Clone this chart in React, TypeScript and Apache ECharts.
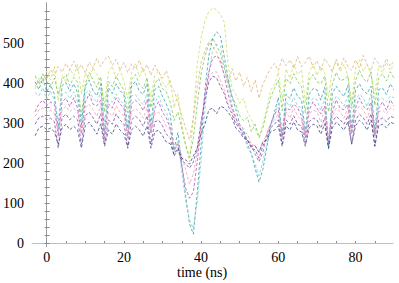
import React, { useEffect, useRef } from "react";
import * as echarts from "echarts";

// time axis: -3 .. 90 ns, one sample per ns
const times: number[] = Array.from({ length: 94 }, (_, i) => i - 3);

const xTickLabels = [0, 20, 40, 60, 80];
const xMinorTicks = [0, 5, 10, 15, 20, 25, 30, 35, 40, 45, 50, 55, 60, 65, 70, 75, 80, 85];
const yTickLabels = [0, 100, 200, 300, 400, 500];
const yMinorTicks = [0, 20, 40, 60, 80, 100, 120, 140, 160, 180, 200, 220, 240, 260, 280, 300, 320, 340, 360, 380, 400, 420, 440, 460, 480, 500, 520, 540, 560, 580];
const xAxisTitle = "time (ns)";

const limeSeries = [
  385, 412, 398, 430, 407, 441, 356, 419, 402, 436,
  418, 447, 372, 425, 409, 438, 421, 396, 351, 428,
  442, 411, 433, 404, 362, 426, 448, 415, 437, 409,
  364, 418, 431, 402, 389, 407, 338, 372, 296, 248,
  203, 318, 448, 512, 556, 579, 588, 583, 571, 552,
  446, 388, 371, 349, 362, 327, 309, 286, 262, 298,
  337, 381, 396, 427, 358, 435, 412, 446, 421, 433,
  352, 427, 448, 419, 441, 426, 365, 432, 455, 428,
  447, 419, 351, 438, 458, 429, 446, 421, 372, 443,
  426, 452, 431, 447,
];
const tanSeries = [
  392, 405, 421, 410, 433, 418, 441, 427, 449, 432,
  455, 431, 446, 424, 452, 437, 462, 441, 458, 467,
  444, 459, 432, 451, 426, 448, 436, 457, 428, 446,
  419, 445, 427, 412, 431, 396, 381, 352, 318, 287,
  258, 311, 389, 452, 481, 503, 492, 477, 448, 424,
  398, 436, 405, 427, 392, 414, 378, 408, 362, 397,
  418, 436, 449, 431, 462, 443, 458, 437, 466, 441,
  452, 467, 438, 456, 431, 461, 447, 428, 459, 436,
  463, 441, 432, 458, 437, 469, 446, 431, 462, 448,
  437, 461, 442, 456,
];
const greenSeries = [
  418, 396, 423, 405, 389, 412, 371, 408, 421, 393,
  414, 402, 318, 397, 426, 408, 389, 416, 327, 404,
  391, 417, 398, 382, 326, 409, 421, 397, 386, 413,
  338, 399, 411, 386, 378, 352, 306, 327, 286, 243,
  214, 262, 347, 423, 468, 497, 512, 493, 474, 437,
  403, 366, 347, 318, 306, 314, 278, 297, 264, 288,
  327, 364, 386, 407, 331, 412, 398, 423, 404, 391,
  326, 408, 421, 403, 398, 417, 328, 396, 427, 406,
  409, 418, 336, 406, 432, 411, 402, 428, 344, 412,
  423, 405, 428, 411,
];
const tealSeries = [
  403, 384, 412, 378, 396, 372, 286, 394, 401, 379,
  398, 376, 296, 392, 407, 381, 368, 397, 276, 388,
  374, 398, 381, 371, 286, 393, 404, 379, 372, 398,
  296, 383, 392, 366, 347, 322, 236, 276, 196, 118,
  48, 22, 126, 246, 384, 468, 512, 528, 517, 466,
  412, 366, 334, 297, 284, 246, 224, 186, 152, 184,
  238, 294, 327, 364, 266, 372, 361, 388, 366, 358,
  276, 372, 386, 383, 357, 389, 236, 374, 392, 378,
  366, 394, 286, 382, 398, 381, 373, 392, 276, 384,
  387, 371, 398, 382,
];
const cyanSeries = [
  376, 368, 388, 359, 379, 356, 306, 372, 377, 361,
  378, 354, 286, 373, 382, 362, 351, 378, 304, 357,
  352, 373, 356, 348, 268, 368, 371, 357, 346, 374,
  284, 351, 368, 341, 328, 296, 228, 254, 176, 106,
  58, 36, 104, 206, 334, 426, 483, 497, 492, 447,
  393, 346, 313, 287, 273, 238, 223, 197, 168, 204,
  246, 293, 318, 348, 268, 354, 341, 364, 342, 338,
  266, 348, 362, 358, 331, 363, 246, 348, 367, 357,
  342, 368, 276, 357, 372, 363, 341, 373, 266, 358,
  362, 353, 367, 363,
];
const magentaSeries = [
  328, 348, 357, 343, 352, 347, 266, 353, 362, 341,
  363, 337, 273, 352, 373, 347, 343, 357, 262, 348,
  337, 363, 347, 338, 262, 348, 357, 348, 331, 358,
  273, 337, 353, 327, 313, 286, 232, 247, 193, 137,
  112, 128, 204, 287, 373, 427, 462, 468, 457, 417,
  373, 337, 313, 287, 278, 257, 243, 222, 203, 227,
  273, 297, 323, 332, 263, 337, 333, 347, 338, 317,
  263, 332, 353, 337, 323, 342, 253, 327, 358, 337,
  333, 347, 273, 337, 363, 342, 333, 352, 268, 337,
  353, 332, 358, 342,
];
const pinkSeries = [
  317, 333, 337, 328, 332, 323, 277, 333, 342, 328,
  337, 328, 272, 338, 347, 333, 317, 343, 277, 328,
  317, 343, 327, 318, 272, 328, 337, 328, 312, 338,
  277, 323, 327, 313, 292, 283, 237, 253, 217, 183,
  147, 173, 227, 303, 367, 413, 427, 428, 407, 383,
  347, 333, 302, 293, 277, 273, 247, 243, 227, 253,
  272, 298, 307, 323, 267, 328, 312, 338, 317, 308,
  267, 323, 332, 328, 302, 333, 262, 318, 337, 328,
  312, 338, 272, 328, 342, 333, 312, 343, 267, 328,
  332, 323, 337, 333,
];
const purpleSeries = [
  297, 313, 317, 308, 312, 303, 237, 313, 322, 308,
  317, 308, 247, 318, 327, 313, 297, 323, 247, 308,
  297, 323, 307, 298, 242, 308, 317, 308, 292, 318,
  247, 303, 307, 293, 272, 263, 217, 233, 207, 198,
  187, 203, 237, 303, 357, 403, 417, 413, 392, 373,
  342, 323, 297, 288, 267, 258, 237, 233, 212, 243,
  262, 288, 297, 308, 247, 308, 297, 318, 297, 293,
  247, 303, 312, 308, 287, 313, 237, 303, 317, 308,
  297, 318, 247, 308, 322, 313, 297, 323, 242, 308,
  312, 303, 317, 313,
];
const navySeries = [
  268, 288, 292, 283, 287, 278, 247, 288, 297, 283,
  292, 283, 237, 293, 302, 288, 272, 298, 242, 283,
  272, 298, 282, 273, 237, 283, 292, 283, 267, 293,
  237, 278, 282, 268, 252, 248, 222, 238, 212, 208,
  197, 218, 237, 273, 297, 333, 337, 323, 342, 338,
  327, 313, 287, 278, 262, 258, 242, 243, 227, 253,
  257, 278, 282, 293, 242, 293, 282, 303, 282, 278,
  242, 288, 297, 293, 272, 298, 237, 288, 302, 293,
  282, 303, 247, 293, 307, 298, 282, 308, 242, 293,
  297, 288, 302, 298,
];

const seriesList = [
  { name: "s1", color: "#c9e25e", values: limeSeries },
  { name: "s2", color: "#ddb67e", values: tanSeries },
  { name: "s3", color: "#7cc85a", values: greenSeries },
  { name: "s4", color: "#3a9ea8", values: tealSeries },
  { name: "s5", color: "#7fcfcf", values: cyanSeries },
  { name: "s6", color: "#c24cc0", values: magentaSeries },
  { name: "s7", color: "#eca2b2", values: pinkSeries },
  { name: "s8", color: "#7a4aa8", values: purpleSeries },
  { name: "s9", color: "#3e4c86", values: navySeries },
];

const FONT = "Liberation Serif";

export default function App() {
  const ref = useRef<HTMLDivElement>(null);
  useEffect(() => {
    if (!ref.current) return;
    const chart = echarts.init(ref.current, undefined, { renderer: "svg" });
    const xMin = -3.8;
    const xMax = 89.7;
    const yMin = -7.5;
    const yMax = 600;
    chart.setOption({
      animation: false,
      backgroundColor: "#ffffff",
      textStyle: { fontFamily: FONT },
      grid: {
        left: 32,
        right: 6,
        top: 3,
        bottom: 37,
        containLabel: false,
        outerBoundsMode: "none",
      },
      graphic: [
        {
          type: "text",
          left: 177,
          top: 265,
          style: {
            text: xAxisTitle,
            font: "14px 'Liberation Serif', serif",
            fill: "#000",
          },
        },
      ],
      xAxis: [
        {
          type: "value",
          min: xMin,
          max: xMax,
          position: "bottom",
          axisLine: { show: false },
          splitLine: { show: false },
          axisTick: {
            show: true,
            inside: true,
            length: 2,
            customValues: xMinorTicks,
            lineStyle: { color: "#888", width: 1 },
          },
          axisLabel: {
            customValues: xTickLabels,
            margin: 4,
            fontFamily: FONT,
            fontSize: 14,
            color: "#000",
          },
        },
        {
          type: "value",
          min: xMin,
          max: xMax,
          position: "top",
          axisLine: { show: true, lineStyle: { color: "#bdbdbd", width: 1 } },
          axisTick: { show: false },
          axisLabel: { show: false },
          splitLine: { show: false },
        },
      ],
      yAxis: [
        {
          type: "value",
          min: yMin,
          max: yMax,
          position: "left",
          axisLine: { show: true, lineStyle: { color: "#666", width: 1 } },
          splitLine: { show: false },
          axisTick: {
            show: true,
            length: 2,
            customValues: yMinorTicks,
            lineStyle: { color: "#888", width: 1 },
          },
          axisLabel: {
            customValues: yTickLabels,
            margin: 8,
            fontFamily: FONT,
            fontSize: 14,
            color: "#000",
          },
        },
        {
          type: "value",
          min: yMin,
          max: yMax,
          position: "right",
          axisLine: { show: true, lineStyle: { color: "#999", width: 1 } },
          splitLine: { show: false },
          axisTick: {
            show: true,
            length: 3,
            customValues: yMinorTicks,
            lineStyle: { color: "#888", width: 1 },
          },
          axisLabel: { show: false },
        },
      ],
      series: seriesList.map((s) => ({
        name: s.name,
        type: "line",
        xAxisIndex: 0,
        yAxisIndex: 0,
        showSymbol: false,
        symbol: "none",
        clip: true,
        data: s.values.map((v, i) => [times[i], v]),
        lineStyle: { color: s.color, width: 1, type: [3, 2], opacity: 0.8 },
      })),
    });
    return () => chart.dispose();
  }, []);
  return (
    <div
      ref={ref}
      style={{ position: "fixed", left: 0, top: 0, width: 399, height: 283 }}
    />
  );
}
